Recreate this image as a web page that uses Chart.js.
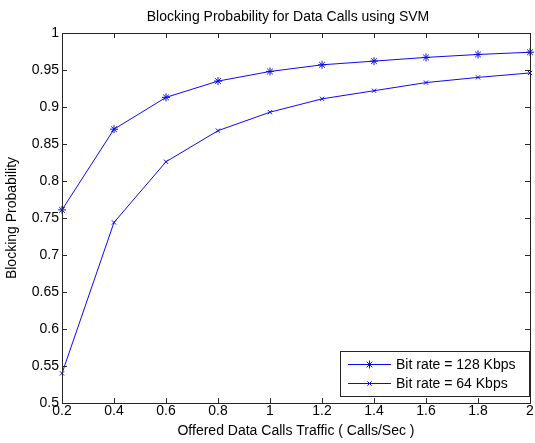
<!DOCTYPE html>
<html>
<head>
<meta charset="utf-8">
<script src="https://cdn.jsdelivr.net/npm/chart.js@4"></script>
<style>
  html, body { margin: 0; padding: 0; background: #fff; }
  canvas { display: block; }
</style>
</head>
<body>
<canvas id="chart" width="535" height="443"></canvas>
<script>
// offered traffic (Calls/Sec)
const traffic = [0.2, 0.4, 0.6, 0.8, 1.0, 1.2, 1.4, 1.6, 1.8, 2.0];
const rate128 = [0.761, 0.870, 0.913, 0.935, 0.948, 0.957, 0.962, 0.967, 0.971, 0.974];
const rate64 = [0.540, 0.744, 0.826, 0.868, 0.893, 0.911, 0.922, 0.933, 0.940, 0.946];
const seriesNames = ['Bit rate = 128 Kbps', 'Bit rate = 64 Kbps'];
const xTicks = [0.2, 0.4, 0.6, 0.8, 1, 1.2, 1.4, 1.6, 1.8, 2];
const yTicks = [0.5, 0.55, 0.6, 0.65, 0.7, 0.75, 0.8, 0.85, 0.9, 0.95, 1];

const FONT = 'Liberation Sans, Arial, sans-serif';
const SIZE = 14;
const BLUE = '#0a0af0';
const AXIS = '#262626';

const toPoints = (ys) => traffic.map((x, i) => ({ x: x, y: ys[i] }));

// matlab style: full box, ticks pointing inwards, legend inside the axes
const boxPlugin = {
  id: 'box',
  afterDraw(chart) {
    const { ctx, chartArea: a, scales } = chart;
    ctx.save();
    ctx.strokeStyle = AXIS;
    ctx.lineWidth = 1;
    ctx.strokeRect(Math.round(a.left) + 0.5, Math.round(a.top) + 0.5,
      Math.round(a.right - a.left), Math.round(a.bottom - a.top));
    const len = 5;
    ctx.beginPath();
    xTicks.forEach((v) => {
      const x = Math.round(scales.x.getPixelForValue(v)) + 0.5;
      ctx.moveTo(x, a.bottom); ctx.lineTo(x, a.bottom - len);
      ctx.moveTo(x, a.top); ctx.lineTo(x, a.top + len);
    });
    yTicks.forEach((v) => {
      const y = Math.round(scales.y.getPixelForValue(v)) + 0.5;
      ctx.moveTo(a.left, y); ctx.lineTo(a.left + len, y);
      ctx.moveTo(a.right, y); ctx.lineTo(a.right - len, y);
    });
    ctx.stroke();

    // title
    ctx.fillStyle = '#000';
    ctx.font = SIZE + 'px ' + FONT;
    ctx.textAlign = 'center';
    ctx.textBaseline = 'middle';
    ctx.fillText('Blocking Probability for Data Calls using SVM', 288, 17);

    // legend
    const bx = a.right - 190, by = a.bottom - 52, bw = 189, bh = 45;
    ctx.fillStyle = '#fff';
    ctx.fillRect(bx, by, bw, bh);
    ctx.strokeStyle = AXIS;
    ctx.strokeRect(Math.round(bx) + 0.5, Math.round(by) + 0.5, bw, bh);
    chart.data.datasets.forEach((ds, i) => {
      const y = by + 13 + i * 19;
      ctx.strokeStyle = ds.borderColor;
      ctx.beginPath();
      ctx.moveTo(bx + 8, y + 0.5);
      ctx.lineTo(bx + 51, y + 0.5);
      ctx.stroke();
      Chart.helpers.drawPoint(ctx, {
        pointStyle: ds.pointStyle, radius: ds.pointRadius, rotation: 0, borderWidth: 1
      }, bx + 29.5, y + 0.5);
      ctx.fillStyle = '#000';
      ctx.textAlign = 'left';
      ctx.fillText(ds.label, bx + 56, y + 1);
    });
    ctx.restore();
  }
};

new Chart(document.getElementById('chart'), {
  type: 'line',
  data: {
    datasets: [
      {
        label: seriesNames[0],
        data: toPoints(rate128),
        borderColor: BLUE,
        backgroundColor: BLUE,
        borderWidth: 1,
        pointStyle: 'star',
        pointRadius: 4,
        pointBorderWidth: 1,
        clip: false
      },
      {
        label: seriesNames[1],
        data: toPoints(rate64),
        borderColor: BLUE,
        backgroundColor: BLUE,
        borderWidth: 1,
        pointStyle: 'crossRot',
        pointRadius: 3,
        pointBorderWidth: 1,
        clip: false
      }
    ]
  },
  options: {
    responsive: false,
    animation: false,
    devicePixelRatio: 1,
    layout: { padding: { top: 33, right: 5, left: 0, bottom: 0 } },
    plugins: {
      legend: { display: false },
      title: { display: false },
      tooltip: { enabled: false }
    },
    scales: {
      x: {
        type: 'linear',
        min: 0.2,
        max: 2,
        afterBuildTicks: (s) => { s.ticks = xTicks.map((v) => ({ value: v })); },
        afterFit: (s) => { s.height = 40; },
        grid: { display: false, drawTicks: false },
        border: { display: false },
        ticks: {
          color: '#000',
          font: { family: FONT, size: SIZE },
          padding: 0,
          maxRotation: 0,
          autoSkip: false,
          callback: (v) => String(v)
        },
        title: {
          display: true,
          text: 'Offered Data Calls Traffic ( Calls/Sec )',
          color: '#000',
          font: { family: FONT, size: SIZE },
          padding: { top: 0, bottom: 3 }
        }
      },
      y: {
        min: 0.5,
        max: 1,
        afterBuildTicks: (s) => { s.ticks = yTicks.map((v) => ({ value: v })); },
        afterFit: (s) => { s.width = 62; },
        grid: { display: false, drawTicks: false },
        border: { display: false },
        ticks: {
          color: '#000',
          font: { family: FONT, size: SIZE },
          padding: 3,
          autoSkip: false,
          callback: (v) => String(v)
        },
        title: {
          display: true,
          text: 'Blocking Probability',
          color: '#000',
          font: { family: FONT, size: SIZE },
          padding: { top: 4, bottom: 0 }
        }
      }
    }
  },
  plugins: [boxPlugin]
});
</script>
</body>
</html>
